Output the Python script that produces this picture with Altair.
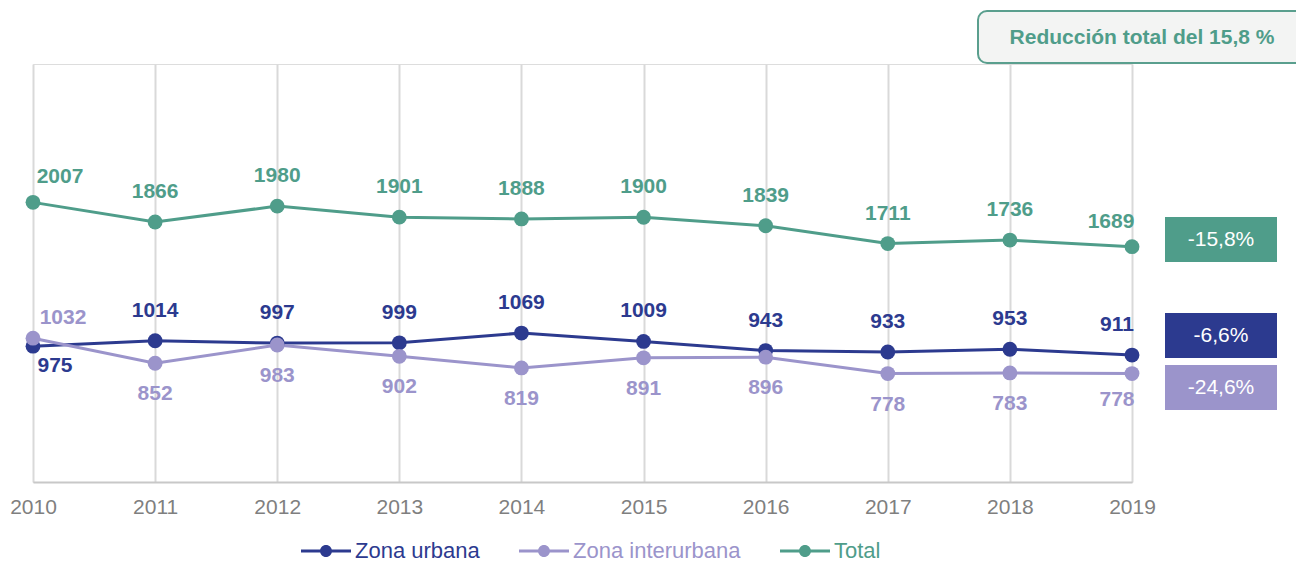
import altair as alt
import pandas as pd

# ---- data ----
years = [2010, 2011, 2012, 2013, 2014, 2015, 2016, 2017, 2018, 2019]
urbana = [975, 1014, 997, 999, 1069, 1009, 943, 933, 953, 911]
interurbana = [1032, 852, 983, 902, 819, 891, 896, 778, 783, 778]
total = [2007, 1866, 1980, 1901, 1888, 1900, 1839, 1711, 1736, 1689]
series_names = ["Zona urbana", "Zona interurbana", "Total"]
series_colors = ["#2c3a8f", "#9b94cb", "#4f9d8a"]
changes = ["-6,6%", "-24,6%", "-15,8%"]
badge_text = "Reducción total del 15,8 %"

rows = []
for name, vals in zip(series_names, [urbana, interurbana, total]):
    for yr, v in zip(years, vals):
        rows.append({"year": yr, "value": v, "series": name})
df = pd.DataFrame(rows)

W, H = 1099, 418
FONT = "Liberation Sans"

xaxis = alt.Axis(values=years, format="d", title=None, grid=True, gridColor="#d9d9d9",
                 gridWidth=2, domainColor="#c8c8c8", domainWidth=2, ticks=False,
                 labelFontSize=21, labelColor="#7f7f7f", labelPadding=14, labelFont=FONT,
                 labelFlush=False)
xscale = alt.Scale(domain=[2010, 2019], nice=False, zero=False)
yscale = alt.Scale(domain=[0, 3000])
cscale = alt.Scale(domain=series_names, range=series_colors)

legend_path = "M-1,-0.15H4V0.15H-1Z M2.1,0A0.6,0.6,0,1,1,0.9,0A0.6,0.6,0,1,1,2.1,0Z"
label_color_expr = ("datum.label == 'Total' ? '%s' : datum.label == 'Zona urbana' ? '%s' : '%s'"
                    % (series_colors[2], series_colors[0], series_colors[1]))
legend = alt.Legend(
    orient="none", legendX=267, legendY=476, direction="horizontal", title=None,
    symbolType=legend_path, symbolSize=400, symbolStrokeWidth=0, symbolOpacity=1,
    labelFontSize=22, labelOffset=33, columnPadding=38, labelFont=FONT,
    labelColor={"expr": label_color_expr}, labelLimit=400)
color = alt.Color("series:N", scale=cscale, legend=legend)

base = alt.Chart(df)

line = base.mark_line(strokeWidth=3).encode(
    x=alt.X("year:Q", scale=xscale, axis=xaxis),
    y=alt.Y("value:Q", scale=yscale, axis=None),
    color=color,
)

points = base.mark_circle(size=220, opacity=1).encode(
    x=alt.X("year:Q", scale=xscale, axis=xaxis),
    y=alt.Y("value:Q", scale=yscale, axis=None),
    color=color,
)

dy_expr = ("datum.series=='Total' ? ((datum.year==2010 || datum.year==2019) ? -25 : -30) : "
           "datum.series=='Zona urbana' ? (datum.year==2010 ? 20 : -30) : "
           "(datum.year==2010 ? -20 : datum.year==2019 ? 26 : 31)")
dx_expr = ("datum.year==2010 ? (datum.series=='Total' ? 27 : datum.series=='Zona urbana' ? 22 : 30) : "
           "datum.year==2019 ? (datum.series=='Total' ? -21 : -15) : 0")

labels = base.transform_calculate(
    dy=dy_expr, dx=dx_expr
).transform_calculate(
    ly="datum.value - datum.dy * 3000 / %d" % H,
    lx="datum.year + datum.dx * 9 / %d" % W,
).mark_text(fontSize=21, fontWeight="bold", baseline="middle", align="center", font=FONT).encode(
    x=alt.X("lx:Q", scale=xscale, axis=xaxis),
    y=alt.Y("ly:Q", scale=yscale, axis=None),
    text=alt.Text("value:Q", format="d"),
    color=color,
)

# right-side change boxes
box_specs = [(2, 153, 198), (0, 249, 294), (1, 301, 346)]
boxes = []
for idx, y0, y1 in box_specs:
    d = pd.DataFrame({"t": [changes[idx]]})
    c = alt.Chart(d)
    boxes.append(c.mark_rect(color=series_colors[idx]).encode(
        x=alt.value(1132), x2=alt.value(1244), y=alt.value(y0), y2=alt.value(y1)))
    boxes.append(c.mark_text(color="white", fontSize=21, font=FONT, baseline="middle",
                             align="center").encode(
        x=alt.value(1188), y=alt.value((y0 + y1) / 2), text="t:N"))

badge_df = pd.DataFrame({"t": [badge_text]})
badge_rect = alt.Chart(badge_df).mark_rect(fill="#f3f4f3", stroke="#5a9f8e", strokeWidth=2,
                                           cornerRadius=9).encode(
    x=alt.value(945), x2=alt.value(1290), y=alt.value(-53), y2=alt.value(-1))
badge_txt = alt.Chart(badge_df).mark_text(color="#4f9d8a", fontSize=21, fontWeight="bold",
                                          font=FONT, baseline="middle", align="center").encode(
    x=alt.value(1109), y=alt.value(-26), text="t:N")

chart = alt.layer(line, points, labels, *boxes, badge_rect, badge_txt).properties(
    width=W, height=H,
    autosize=alt.AutoSizeParams(type="none"),
    padding={"left": 33, "top": 64, "right": 164, "bottom": 80},
).configure_view(stroke=None).configure(font=FONT)

chart.save("out.html", embed_options={"renderer": "svg", "actions": False})
